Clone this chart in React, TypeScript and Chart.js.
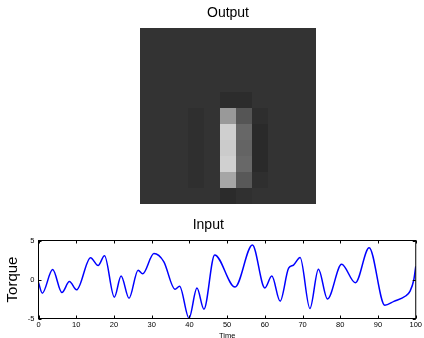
import React, { useEffect, useRef } from "react";
import { Chart, registerables } from "chart.js";

Chart.register(...registerables);

const FONT = "'Liberation Sans', Arial, Helvetica, sans-serif";

// Output image: gray levels (0-255), row 0 = top
const HEAT_ROWS: number[][] = [
  [51, 51, 51, 51, 51, 51, 51, 51, 51, 51, 51],
  [51, 51, 51, 51, 51, 51, 51, 51, 51, 51, 51],
  [51, 51, 51, 51, 51, 51, 51, 51, 51, 51, 51],
  [51, 51, 51, 51, 51, 51, 51, 51, 51, 51, 51],
  [51, 51, 51, 51, 51, 44, 44, 51, 51, 51, 51],
  [51, 51, 51, 47, 51, 153, 85, 46, 51, 51, 51],
  [51, 51, 51, 47, 51, 207, 103, 42, 51, 51, 51],
  [51, 51, 51, 47, 51, 203, 100, 42, 51, 51, 51],
  [51, 51, 51, 47, 51, 208, 104, 42, 51, 51, 51],
  [51, 51, 51, 47, 51, 166, 88, 47, 51, 51, 51],
  [51, 51, 51, 51, 51, 43, 48, 51, 51, 51, 51],
];
const HEAT_COLS = ["0", "1", "2", "3", "4", "5", "6", "7", "8", "9", "10"];

// Input signal
const TIME = [0, 1.0, 3.75, 6.2, 8.2, 10.1, 13.8, 15.8, 17.5, 20.1, 21.9, 24.0, 26.4, 27.6, 30.6, 33.2, 36.2, 37.4, 39.9, 42.0, 43.85, 46.7, 52.1, 56.7, 60.0, 61.85, 64.05, 66.3, 67.6, 69.35, 71.95, 74.2, 76.6, 80.35, 84.0, 87.65, 91.8, 94.2, 97.2, 98.5, 99.5, 100];
const TORQUE = [-0.4, -1.75, 1.27, -1.67, -0.27, -1.33, 2.8, 1.8, 3.05, -2.26, 0.45, -2.4, 1.2, 0.73, 3.33, 2.3, -1.25, -0.85, -4.95, -1.1, -3.8, 3.15, -0.97, 4.42, -1.08, 0.45, -2.77, 1.45, 1.85, 2.82, -3.72, 1.32, -2.5, 1.96, -0.42, 4.08, -3.3, -2.8, -2.15, -1.5, 0.0, 1.7];
const X_TICK_MIN = 0, X_TICK_MAX = 100, X_TICK_STEP = 10;
const Y_TICK_MIN = -5, Y_TICK_MAX = 5, Y_TICK_STEP = 5;

const framePlugin = {
  id: "matlabFrame",
  afterDatasetsDraw(chart: any) {
    const { ctx, chartArea } = chart;
    const { left, right, top, bottom } = chartArea;
    const x = chart.scales.x, y = chart.scales.y;
    ctx.save();
    ctx.strokeStyle = "#000";
    ctx.lineWidth = 1;
    ctx.strokeRect(left, top, right - left, bottom - top);
    const L = 3;
    ctx.beginPath();
    x.ticks.forEach((t: any) => {
      const px = Math.round(x.getPixelForValue(t.value)) + 0.5;
      ctx.moveTo(px, bottom); ctx.lineTo(px, bottom - L);
      ctx.moveTo(px, top); ctx.lineTo(px, top + L);
    });
    y.ticks.forEach((t: any) => {
      const py = Math.round(y.getPixelForValue(t.value)) + 0.5;
      ctx.moveTo(left, py); ctx.lineTo(left + L, py);
      ctx.moveTo(right, py); ctx.lineTo(right - L, py);
    });
    ctx.stroke();
    ctx.restore();
  },
};

export default function App() {
  const topRef = useRef<HTMLCanvasElement>(null);
  const botRef = useRef<HTMLCanvasElement>(null);

  useEffect(() => {
    document.body.style.margin = "0";
    document.body.style.overflow = "hidden";

    const heatDatasets = HEAT_ROWS.slice().reverse().map((row) => ({
      data: row.map(() => 1),
      backgroundColor: row.map((g) => `rgb(${g},${g},${g})`),
      borderWidth: 0,
      inflateAmount: 0,
      barPercentage: 1,
      categoryPercentage: 1,
    }));

    const top = new Chart(topRef.current!, {
      type: "bar",
      data: { labels: HEAT_COLS, datasets: heatDatasets as any },
      options: {
        responsive: false,
        animation: false,
        devicePixelRatio: 1,
        layout: { padding: { left: 140, right: 108, top: 0, bottom: 6 } },
        plugins: {
          legend: { display: false },
          tooltip: { enabled: false },
          title: {
            display: true,
            text: "Output",
            color: "#000",
            font: { family: FONT, size: 14, weight: "normal" },
            padding: { top: 4.7, bottom: 6.5 },
          },
        },
        scales: {
          x: { display: false, stacked: true },
          y: { display: false, stacked: true, min: 0, max: HEAT_ROWS.length },
        },
      } as any,
    });

    const points = TIME.map((t, i) => ({ x: t, y: TORQUE[i] }));
    const bot = new Chart(botRef.current!, {
      type: "line",
      data: {
        datasets: [
          {
            data: points,
            borderColor: "#0000ff",
            borderWidth: 1.5,
            pointRadius: 0,
            cubicInterpolationMode: "monotone",
            fill: false,
          },
        ],
      },
      options: {
        responsive: false,
        animation: false,
        devicePixelRatio: 1,
        layout: { padding: { left: 0, right: 7.5, top: 0, bottom: 0 } },
        plugins: {
          legend: { display: false },
          tooltip: { enabled: false },
          title: {
            display: true,
            text: "Input",
            color: "#000",
            font: { family: FONT, size: 14, weight: "normal" },
            padding: { top: 7.1, bottom: 6.6 },
          },
        },
        scales: {
          x: {
            type: "linear",
            min: X_TICK_MIN,
            max: X_TICK_MAX,
            afterFit: (s: any) => { s.height = 31.5; },
            grid: { display: false, drawTicks: false },
            border: { display: false },
            ticks: { stepSize: X_TICK_STEP, color: "#000", font: { family: FONT, size: 7.5 }, padding: 2, maxRotation: 0 },
            title: { display: true, text: "Time", color: "#000", font: { family: FONT, size: 7.5 }, padding: { top: 0, bottom: 9.5 } },
          },
          y: {
            type: "linear",
            min: Y_TICK_MIN,
            max: Y_TICK_MAX,
            afterFit: (s: any) => { s.width = 38.5; },
            grid: { display: false, drawTicks: false },
            border: { display: false },
            ticks: { stepSize: Y_TICK_STEP, color: "#000", font: { family: FONT, size: 7.5 }, padding: 4 },
            title: { display: true, text: "Torque", color: "#000", font: { family: FONT, size: 15 }, padding: { top: 4, bottom: 0 } },
          },
        },
      } as any,
      plugins: [framePlugin],
    });

    return () => {
      top.destroy();
      bot.destroy();
    };
  }, []);

  return (
    <div style={{ position: "relative", width: 424, height: 338, overflow: "hidden", background: "#fff" }}>
      <canvas ref={topRef} width={424} height={210} style={{ position: "absolute", left: 0, top: 0 }} />
      <canvas ref={botRef} width={424} height={140} style={{ position: "absolute", left: 0, top: 210 }} />
    </div>
  );
}
